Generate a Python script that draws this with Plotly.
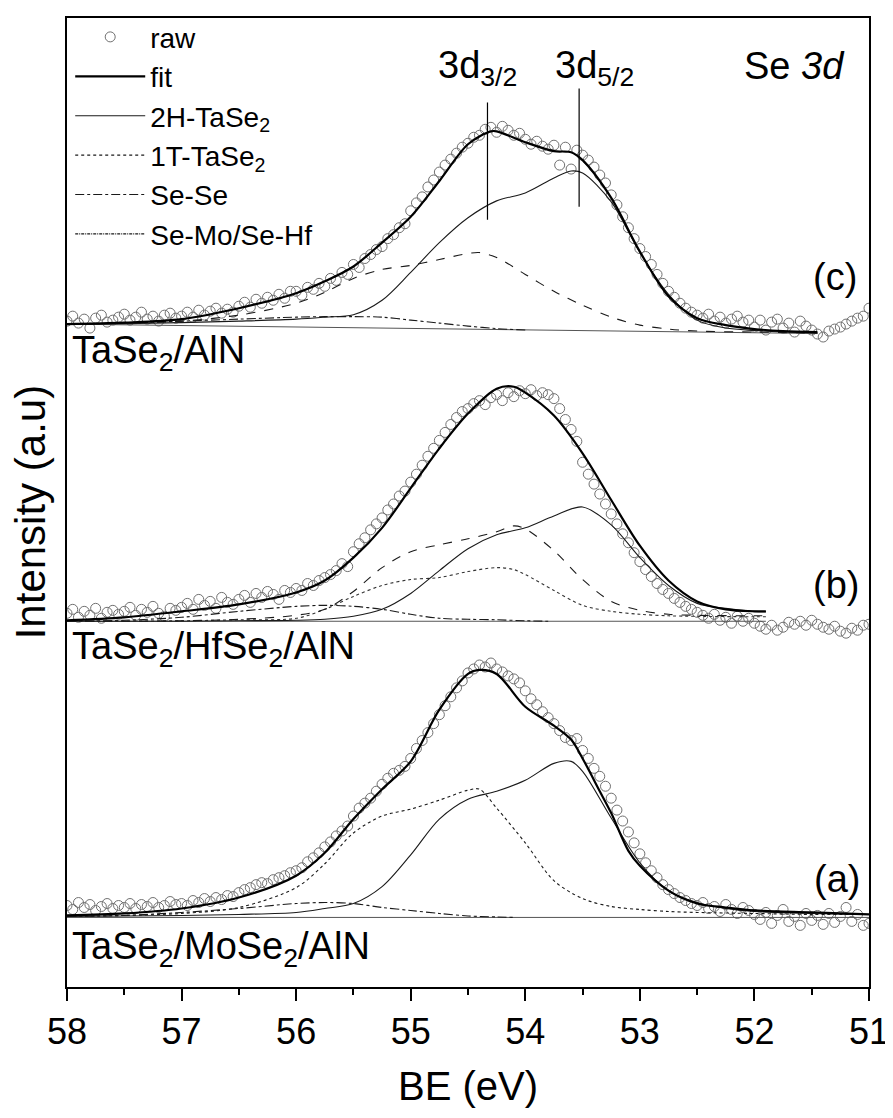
import numpy as np
import plotly.graph_objects as go

# ---------------- data (intensity in a.u., relative to each spectrum's baseline) ----------------
BE_RAW = np.round(np.arange(58.0, 50.999, -0.05), 2)   # binding-energy sampling of the raw spectra

OFF_A, OFF_B, OFF_C = 70, 368, 667   # vertical offsets of the stacked spectra

# (c) TaSe2/AlN
C_RAW = [3, 8, 1, 5, -4, 6, 9, 2, 4, 7,
         10, 4, 7, 12, 5, 8, 3, 9, 11, 6,
         8, 12, 7, 14, 9, 13, 16, 11, 15, 12,
         18, 22, 17, 25, 21, 27, 24, 30, 26, 33,
         33, 29, 37, 35, 41, 38, 46, 44, 52, 50,
         60, 57, 66, 70, 75, 78, 86, 90, 97, 101,
         114, 122, 128, 138, 145, 153, 160, 166, 172, 178,
         182, 188, 190, 196, 198, 193, 199, 195, 190, 192,
         186, 181, 184, 179, 176, 180, 160, 178, 156, 175,
         170, 165, 158, 150, 142, 130, 120, 108, 97, 86,
         76, 68, 60, 50, 41, 33, 27, 21, 16, 12,
         9, 6, 10, 3, 7, 1, 5, 8, 2, 4,
         -3, 4, -6, 2, 5, -4, 1, -8, 3, -2,
         -6, -10, -13, -7, -5, -3, 0, 3, 6, 8,
         16]
C_FIT_BE = [58, 57.5, 57, 56.5, 56, 55.75, 55.5, 55.25, 55, 54.75, 54.5, 54.3, 54.25, 54,
            53.75, 53.6, 53.5, 53.25, 53, 52.75, 52.5, 52.25, 52, 51.75, 51.45]
C_FIT = [0, 1.5, 5, 16, 31, 43, 58, 82, 108, 144, 181, 194, 194, 183,
         174, 173, 165, 127, 73, 28, 6, -1, -5, -7, -8]
C_2H_BE = [58, 57.5, 57, 56.5, 56, 55.75, 55.5, 55.25, 55, 54.75, 54.5, 54.25, 54, 53.75,
           53.6, 53.5, 53.25, 53, 52.75, 52.5, 52.25, 52, 51.75, 51.45]
C_2H = [0, 0.5, 1.5, 3, 5, 7, 9.5, 24, 52, 82, 107, 124, 132, 147,
        154, 152, 123, 72, 30, 4, -4, -6.5, -8, -9]
C_DASH_BE = [58, 57.5, 57, 56.5, 56, 55.75, 55.5, 55.25, 55, 54.75, 54.5, 54.4, 54.25, 54,
             53.75, 53.5, 53.25, 53, 52.75, 52.5, 52, 51.45]
C_DASH = [0, 1, 3, 9, 21, 32, 46, 55, 59, 65, 71, 72, 67, 50,
          33, 19, 7, -1, -5, -7, -8, -9]
C_SESE_BE = [58, 57.5, 57, 56.5, 56, 55.75, 55.5, 55.25, 55, 54.75, 54.5, 54.25, 54]
C_SESE = [0, 1, 3, 5, 7, 7.5, 7.5, 7, 4, 1, -2, -4.5, -6]
C_BG_BE = [58, 51.45]
C_BG = [0, -9.5]

# (b) TaSe2/HfSe2/AlN
B_RAW = [8, 12, 4, 10, 6, 13, 3, 9, 11, 7,
         10, 14, 6, 12, 9, 15, 8, 5, 13, 11,
         14, 18, 12, 22, 16, 20, 13, 24, 19, 17,
         22, 26, 19, 28, 24, 30, 27, 22, 31, 29,
         33, 31, 38, 36, 41, 44, 47, 51, 58, 55,
         70, 78, 84, 92, 98, 104, 112, 118, 126, 131,
         140, 148, 157, 166, 174, 182, 190, 198, 205, 211,
         214, 219, 222, 218, 225, 228, 222, 230, 226, 232,
         229, 233, 227, 230, 228, 224, 214, 203, 193, 181,
         160, 148, 138, 128, 118, 108, 98, 88, 79, 69,
         60, 52, 45, 38, 32, 28, 23, 19, 15, 12,
         9, 6, 3, 7, 1, 4, -2, 5, 0, 3,
         -2, -5, -8, -4, -9, -6, -1, -3, 0, -4,
         1, -3, -6, -8, -5, -10, -12, -7, -9, -4,
         -3]
B_FIT_BE = [58, 57.5, 57, 56.5, 56, 55.75, 55.5, 55.25, 55, 54.75, 54.5, 54.25, 54.1, 54,
            53.75, 53.5, 53.25, 53, 52.75, 52.5, 52.25, 52, 51.9]
B_FIT = [1, 4, 10, 17, 29, 41, 64, 94, 134, 174, 209, 234, 236, 230,
         207, 169, 122, 76, 41, 20, 12, 10, 10]
B_2H_BE = [58, 57, 56.5, 56, 55.75, 55.5, 55.25, 55, 54.75, 54.5, 54.25, 54, 53.75, 53.5,
           53.25, 53, 52.75, 52.5, 52.25, 52, 51.9]
B_2H = [0, 0, 0.5, 1, 2, 5, 12, 28, 51, 73, 87, 94, 106, 115,
        97, 64, 36, 18, 13, 10, 9.5]
B_DASH_BE = [58, 57.5, 57, 56.5, 56, 55.75, 55.5, 55.25, 55, 54.75, 54.5, 54.25, 54.1, 54,
             53.75, 53.5, 53.25, 53, 52.75, 52.5, 52, 51.9]
B_DASH = [0, 0, 0.5, 2, 6, 12, 30, 54, 70, 77, 83, 90, 96, 93,
          71, 42, 20, 11, 7, 6, 5.5, 5.5]
B_1T_BE = [58, 57, 56.5, 56, 55.75, 55.5, 55.25, 55, 54.75, 54.5, 54.25, 54.1, 54, 53.75,
           53.5, 53.25, 53, 52.75, 52.5, 52, 51.9]
B_1T = [0, 0.5, 1.5, 3, 12, 25, 36, 42, 44, 50, 54, 52, 47, 31,
        16, 10, 7, 5.5, 5, 4.5, 4.5]
B_SESE_BE = [58, 57.5, 57, 56.5, 56, 55.75, 55.5, 55.25, 55, 54.75, 54.5, 54.25, 54, 53.8]
B_SESE = [0, 1, 4, 10, 15, 16, 15, 12, 7, 3, 2, 1.5, 0.5, 0]
B_BG_BE = [58, 51.9]
B_BG = [0, 0]

# (a) TaSe2/MoSe2/AlN
A_RAW = [12, 8, 15, 10, 13, 7, 11, 14, 9, 12,
         10, 14, 9, 13, 11, 15, 10, 12, 16, 13,
         14, 12, 17, 15, 19, 16, 20, 18, 22, 21,
         25, 28, 30, 33, 35, 34, 38, 40, 42, 45,
         47, 50, 56, 60, 65, 71, 76, 82, 87, 92,
         102, 110, 115, 120, 127, 134, 140, 145, 148, 152,
         160, 170, 178, 186, 195, 204, 213, 222, 231, 238,
         246, 250, 254, 252, 256, 250, 247, 243, 240, 236,
         228, 220, 214, 207, 201, 195, 188, 181, 178, 180,
         168, 160, 150, 142, 132, 120, 108, 97, 86, 75,
         64, 55, 47, 40, 33, 28, 24, 20, 17, 14,
         12, 15, 9, 11, 6, 13, 8, 4, 10, 7,
         3, -2, 5, -6, 2, 8, -4, 1, -8, 4,
         -3, 2, -7, 4, -5, 1, 10, -4, 3, -8,
         -6]
A_FIT_BE = [58, 57.5, 57, 56.5, 56, 55.75, 55.5, 55.25, 55, 54.75, 54.5, 54.4, 54.25, 54,
            53.75, 53.6, 53.5, 53.35, 53.25, 53.1, 53, 52.75, 52.5, 52.25, 52, 51.5, 51]
A_FIT = [2, 4, 9, 20, 42, 65, 99, 129, 157, 209, 245, 249, 245, 212,
         193, 179, 160, 127, 105, 67, 52, 27, 14, 10, 7, 5, 3]
A_2H_BE = [58, 57, 56.5, 56, 55.75, 55.5, 55.25, 55, 54.75, 54.5, 54.25, 54, 53.75, 53.6,
           53.5, 53.25, 53, 52.75, 52.5, 52.25, 52, 51.5, 51]
A_2H = [1, 2, 3, 5, 9, 14, 31, 63, 99, 119, 127, 138, 155, 157,
        147, 100, 55, 27, 15, 9, 6, 4, 3]
A_1T_BE = [58, 57.5, 57, 56.5, 56, 55.75, 55.5, 55.25, 55, 54.75, 54.5, 54.4, 54.25, 54,
           53.75, 53.5, 53.25, 53, 52.75, 52.5, 52, 51.5, 51]
A_1T = [1, 2, 4, 10, 30, 54, 85, 102, 109, 118, 128, 129, 110, 75,
        37, 19, 11, 8, 6, 5, 4, 3, 3]
A_SESE_BE = [58, 57.5, 57, 56.5, 56, 55.75, 55.5, 55.25, 55, 54.75, 54.5, 54.25, 54.1]
A_SESE = [1, 2, 5, 9, 14, 15, 14, 10, 7, 4, 1.5, 0.5, 0]
A_BG_BE = [58, 51]
A_BG = [0, 0]

# peak-position markers (BE) and their vertical extent (a.u.)
MARK_32_BE, MARK_52_BE = 54.33, 53.53
MARK_32_Y, MARK_52_Y = (772, 890), (785, 904)

X_TICKS = [58, 57, 56, 55, 54, 53, 52, 51]

# ---------------- figure ----------------
FONT = "Liberation Sans, Arial, sans-serif"
RAW_COLOR = "#707070"
LINE_COLOR = "#1a1a1a"

fig = go.Figure()


def add_raw(vals, off, show):
    fig.add_trace(go.Scatter(
        x=BE_RAW, y=np.array(vals, dtype=float) + off, mode="markers", name="raw",
        marker=dict(symbol="circle-open", size=10, color=RAW_COLOR, line=dict(width=1, color=RAW_COLOR)),
        showlegend=show, legendrank=1))


def add_line(be, vals, off, name, dash="solid", width=1.1, color=LINE_COLOR, show=False, rank=10,
             spline=True):
    fig.add_trace(go.Scatter(
        x=be, y=np.array(vals, dtype=float) + off, mode="lines", name=name,
        line=dict(color=color, width=width, dash=dash, shape="spline" if spline else "linear",
                  smoothing=0.9),
        showlegend=show, legendrank=rank))


# raw data (drawn first, behind the fitted curves)
add_raw(C_RAW, OFF_C, True)
add_raw(B_RAW, OFF_B, False)
add_raw(A_RAW, OFF_A, False)

# backgrounds
for be, bg, off in [(C_BG_BE, C_BG, OFF_C), (B_BG_BE, B_BG, OFF_B), (A_BG_BE, A_BG, OFF_A)]:
    add_line(be, bg, off, "background", width=1, color="#555555", spline=False)

# (c)
add_line(C_SESE_BE, C_SESE, OFF_C, "Se-Se", dash="dashdot", show=True, rank=5)
add_line(C_DASH_BE, C_DASH, OFF_C, "1T-TaSe<sub>2</sub> (c)", dash="dash")
add_line(C_2H_BE, C_2H, OFF_C, "2H-TaSe<sub>2</sub>", show=True, rank=3)
add_line(C_FIT_BE, C_FIT, OFF_C, "fit", width=2.2, color="black", show=True, rank=2)

# (b)
add_line(B_SESE_BE, B_SESE, OFF_B, "Se-Se (b)", dash="dashdot")
add_line(B_1T_BE, B_1T, OFF_B, "1T-TaSe<sub>2</sub> (b)", dash="dot", color="#333333")
add_line(B_DASH_BE, B_DASH, OFF_B, "Se-Hf (b)", dash="dash")
add_line(B_2H_BE, B_2H, OFF_B, "2H-TaSe<sub>2</sub> (b)")
add_line(B_FIT_BE, B_FIT, OFF_B, "fit (b)", width=2.2, color="black")

# (a)
add_line(A_SESE_BE, A_SESE, OFF_A, "Se-Se (a)", dash="dashdot")
add_line(A_1T_BE, A_1T, OFF_A, "1T-TaSe<sub>2</sub>", dash="dot", show=True, rank=4)
add_line(A_2H_BE, A_2H, OFF_A, "2H-TaSe<sub>2</sub> (a)")
add_line(A_FIT_BE, A_FIT, OFF_A, "fit (a)", width=2.2, color="black")

# legend-only entry
fig.add_trace(go.Scatter(x=[None], y=[None], mode="lines", name="Se-Mo/Se-Hf",
                         line=dict(color=LINE_COLOR, width=1.1, dash="3px,1px,1px,1px"),
                         showlegend=True, legendrank=6))

# peak markers
for xb, (y0, y1) in [(MARK_32_BE, MARK_32_Y), (MARK_52_BE, MARK_52_Y)]:
    fig.add_shape(type="line", xref="x", yref="y", x0=xb, x1=xb, y0=y0, y1=y1,
                  line=dict(color="black", width=1.2))

ann = dict(showarrow=False, xref="x", yref="y", font=dict(family=FONT, size=38, color="black"))
fig.add_annotation(text="3d<sub>3/2</sub>", x=54.42, y=925, xanchor="center", yanchor="middle", **ann)
fig.add_annotation(text="3d<sub>5/2</sub>", x=53.40, y=925, xanchor="center", yanchor="middle", **ann)
fig.add_annotation(text="Se <i>3d</i>", x=51.19, y=927, xanchor="right", yanchor="middle", **ann)
fig.add_annotation(text="(c)", x=51.30, y=714, xanchor="center", yanchor="middle", **ann)
fig.add_annotation(text="(b)", x=51.29, y=404, xanchor="center", yanchor="middle", **ann)
fig.add_annotation(text="(a)", x=51.28, y=109, xanchor="center", yanchor="middle", **ann)
fig.add_annotation(text="TaSe<sub>2</sub>/AlN", x=57.97, y=638, xanchor="left", yanchor="middle", **ann)
fig.add_annotation(text="TaSe<sub>2</sub>/HfSe<sub>2</sub>/AlN", x=57.97, y=340, xanchor="left",
                   yanchor="middle", **ann)
fig.add_annotation(text="TaSe<sub>2</sub>/MoSe<sub>2</sub>/AlN", x=57.97, y=38, xanchor="left",
                   yanchor="middle", **ann)

# y-axis title
fig.add_annotation(text="Intensity (a.u)", xref="paper", yref="paper", x=-0.046, y=0.49,
                   xanchor="center", yanchor="middle", textangle=-90, showarrow=False,
                   font=dict(family=FONT, size=42, color="black"))

# the page body adds an 8 px margin, so the figure is 8 px smaller and margins are reduced by 8
fig.update_layout(
    width=885, height=1110,
    margin=dict(l=59, r=18, t=4, b=131),
    paper_bgcolor="white", plot_bgcolor="white",
    font=dict(family=FONT, color="black"),
    showlegend=True,
    legend=dict(x=0.004, y=1.006, xanchor="left", yanchor="top", bgcolor="rgba(0,0,0,0)",
                font=dict(family=FONT, size=28, color="black"), itemwidth=70, tracegroupgap=0),
    xaxis=dict(range=[58, 51], tickvals=X_TICKS, ticktext=[str(t) for t in X_TICKS],
               ticks="outside", ticklen=12, tickwidth=2, tickcolor="black", ticklabeloverflow="allow",
               minor=dict(dtick=0.5, tick0=51, ticks="outside", ticklen=6, tickwidth=2, tickcolor="black"),
               showline=True, linewidth=2, linecolor="black", mirror=True,
               showgrid=False, zeroline=False,
               tickfont=dict(family=FONT, size=36, color="black"),
               title=dict(text="BE (eV)", font=dict(family=FONT, size=40, color="black"), standoff=21)),
    yaxis=dict(range=[0, 975], showticklabels=False, ticks="", showline=True, linewidth=2,
               linecolor="black", mirror=True, showgrid=False, zeroline=False),
)

fig.write_html("out.html")
